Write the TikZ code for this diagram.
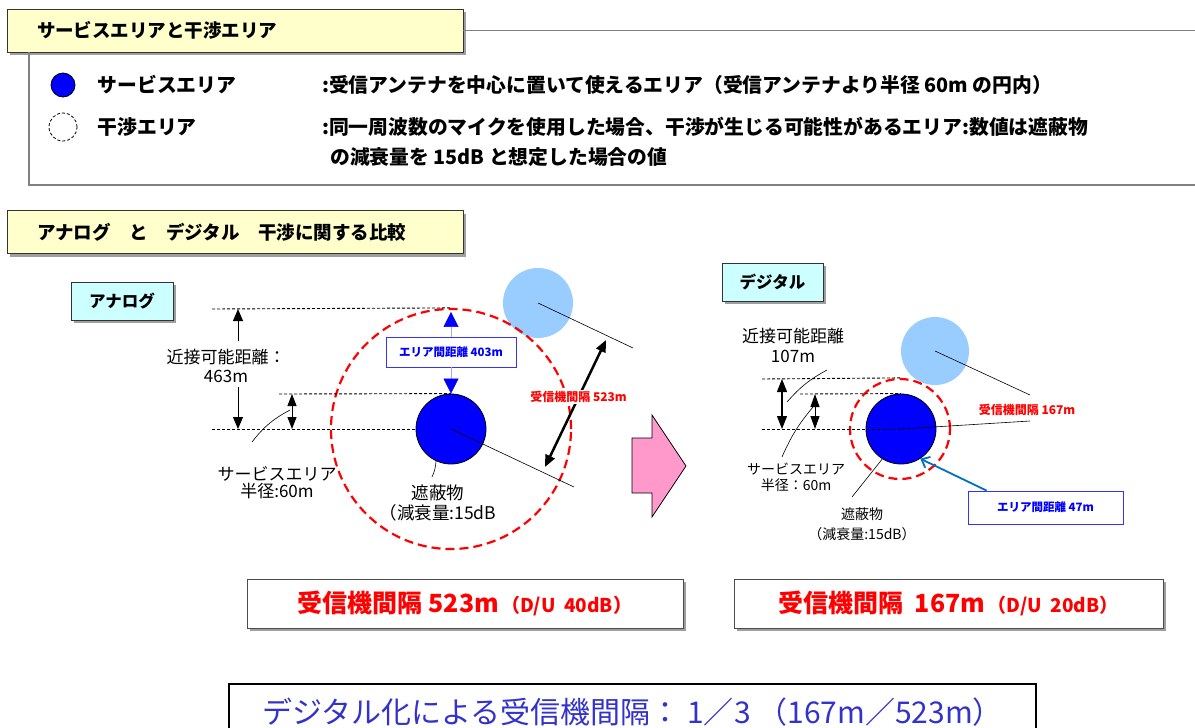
\documentclass[tikz,border=0pt]{standalone}
\usepackage{fontspec}
\setmainfont{Noto Sans CJK JP}
\usepackage{tikz}
\usetikzlibrary{positioning,shadows,arrows.meta}
\definecolor{titleyellow}{HTML}{FFFFCC}
\definecolor{tagcyan}{HTML}{CCFFFF}
\definecolor{antblue}{HTML}{0000FF}
\definecolor{farblue}{HTML}{99CCFF}
\definecolor{arrowpink}{HTML}{FF99CC}
\definecolor{gapblue}{HTML}{0070C0}
\definecolor{sumblue}{HTML}{3333CC}
\newcommand{\jfs}[1]{\fontsize{#1}{#1}\selectfont}
\tikzset{
	boxshadow/.style={drop shadow={shadow xshift=3pt,shadow yshift=-3pt,fill=gray!75,opacity=1}},
	titlebox/.style={draw=black!80, fill=titleyellow, line width=0.8pt, minimum height=43pt, inner xsep=30pt, text width=396pt, align=left, font=\jfs{18.5}\bfseries, boxshadow},
	tagbox/.style={draw=black!80, fill=tagcyan, line width=0.8pt, minimum width=102pt, minimum height=38pt, font=\jfs{16.5}\bfseries, boxshadow},
	framegray/.style={draw=gray, line width=1.2pt},
	legtext/.style={anchor=west, inner sep=0pt, font=\jfs{19.8}\bfseries},
	guide/.style={dash pattern=on 3pt off 2pt, line width=0.9pt},
	intcircle/.style={circle, draw=red, line width=2.2pt, dash pattern=on 9pt off 5pt, inner sep=0pt},
	antcircle/.style={circle, draw, fill=antblue, line width=0.8pt, inner sep=0pt},
	farcircle/.style={circle, fill=farblue, inner sep=0pt},
	dimarrow/.style={line width=1pt, -{Triangle[width=10pt,length=12pt]}},
	dimboth/.style={line width=1pt, {Triangle[width=9pt,length=12pt]}-{Triangle[width=9pt,length=12pt]}},
	leader/.style={line width=0.6pt},
	gapbox/.style={draw=blue!80, fill=white, line width=0.8pt, text=blue, font=\jfs{11.5}\bfseries, inner sep=0pt},
	gaparrow/.style={draw=blue!35, line width=0.6pt, -{Triangle[width=15pt,length=15pt,color=blue]}},
	redlabel/.style={text=red, font=\jfs{12}\bfseries, inner sep=1pt},
	resultbox/.style={draw=black!70, fill=white, line width=0.8pt, minimum height=49pt, text=red, boxshadow},
}
\begin{document}
\begin{tikzpicture}[x=1pt,y=-1pt]
	\useasboundingbox (0,0) rectangle (1195,728);
	\clip (0,0) rectangle (1195,728);
	
	\node[titlebox] (legtitle) at (235,30.5) {サービスエリアと干渉エリア};
	\coordinate (frtr) at (1195,30.5);
	\coordinate (frbl) at (29,185);
	\coordinate (frbr) at (1195,185);
	\draw[framegray] (legtitle.east) to (frtr);
	\draw[framegray] (legtitle.south -| frbl) to (frbl) to (frbr);
	
	\node[antcircle, minimum size=24pt] (legsrv) at (63,85) {};
	\node[circle, draw, line width=0.8pt, dash pattern=on 3pt off 2pt, minimum size=28pt, inner sep=0pt] (legint) at (63,127) {};
	\node[legtext, right=22pt of legsrv] (legsrvtxt) {サービスエリア};
	\node[legtext, right=20pt of legint] (leginttxt) {干渉エリア};
	\node[legtext] (legsrvdsc) at (322,85) {:受信アンテナを中心に置いて使えるエリア（受信アンテナより半径 60m の円内）};
	\node[legtext] (legintdsc) at (322,127) {:同一周波数のマイクを使用した場合、干渉が生じる可能性があるエリア:数値は遮蔽物};
	\node[legtext] (legintdsc2) at (330,157) {の減衰量を 15dB と想定した場合の値};
	
	\node[titlebox] (cmptitle) at (235,232) {アナログ　と　デジタル　干渉に関する比較};
	\node[tagbox] (anatag) at (122,301) {アナログ};
	\node[tagbox, minimum width=101pt] (digtag) at (772.5,282) {デジタル};
	
	\node[farcircle, minimum size=70pt] (afar) at (538,303) {};
	\node[antcircle, minimum size=70pt] (ablk) at (451,429) {};
	\node[intcircle, minimum size=240pt] (aint) at (451,429) {};
	\coordinate (atl) at (212,309);
	\coordinate (aml) at (279,394);
	\coordinate (abl) at (212,429);
	\draw[guide] (atl) to (aint.north);
	\draw[guide] (aml) to (ablk.north);
	\draw[guide] (abl) to (ablk.west);
	\node[align=center, font=\jfs{17}, inner sep=1pt] (adist) at (226,366) {近接可能距離：\\[2pt]463m};
	\coordinate (ad1) at (238,309);
	\coordinate (ad2) at (238,341);
	\coordinate (ad3) at (238,387);
	\coordinate (ad4) at (238,429);
	\draw[dimarrow] (ad2) to (ad1);
	\draw[dimarrow] (ad3) to (ad4);
	\coordinate (as1) at (292,394);
	\coordinate (as2) at (292,429);
	\draw[dimboth] (as1) to (as2);
	\coordinate (alead1) at (252,442);
	\coordinate (alead2) at (290,410);
	\draw[leader] (alead1) to[bend left=12] (alead2);
	\node[align=center, font=\jfs{17}, inner sep=1pt] (asrv) at (277,483) {サービスエリア\\半径:60m};
	\node[gapbox, minimum width=130pt, minimum height=30pt] (abox) at (451,352) {エリア間距離 403m};
	\draw[gaparrow] (abox.north) to ([yshift=-4pt]aint.north);
	\draw[gaparrow] (abox.south) to (ablk.north);
	\coordinate (afarend) at (633,348);
	\coordinate (ablkend) at (574,487);
	\draw[leader] (afar.center) to (afarend);
	\draw[leader] (ablk.center) to (ablkend);
	\coordinate (agap1) at (545,467);
	\coordinate (agap2) at (606,340);
	\draw[line width=2.5pt, {Triangle[width=10pt,length=12pt]}-{Triangle[width=10pt,length=12pt]}] (agap1) to node[pos=0.55, redlabel, fill=white] (agaptxt) {受信機間隔 523m} (agap2);
	\coordinate (alead3) at (432,477);
	\draw[leader] (alead3) to[bend right=10] (ablk.245);
	\node[align=center, font=\jfs{17.5}, inner sep=1pt] (ashield) at (438,503) {遮蔽物\\[3pt]（減衰量:15dB};
	
	\draw[fill=arrowpink, line width=0.8pt] (632,438) -- (652,438) -- (652,415) -- (686,466) -- (652,517) -- (652,493) -- (632,493) -- cycle;
	
	\node[farcircle, minimum size=68pt] (dfar) at (935,351) {};
	\node[intcircle, minimum size=100pt] (dint) at (900,429) {};
	\node[antcircle, minimum size=70pt] (dblk) at (901,429) {};
	\coordinate (dtl) at (762,379);
	\coordinate (dml) at (800,394);
	\coordinate (dbl) at (762,429);
	\draw[guide] (dtl) to (dint.north);
	\draw[guide] (dml) to (dblk.north);
	\draw[guide] (dbl) to (dblk.center);
	\coordinate (dd1) at (782,379);
	\coordinate (dd2) at (782,429);
	\draw[line width=1.2pt, {Triangle[width=10pt,length=13pt]}-{Triangle[width=10pt,length=13pt]}] (dd1) to (dd2);
	\coordinate (ds1) at (815,394);
	\coordinate (ds2) at (815,429);
	\draw[line width=1pt, {Triangle[width=9pt,length=13pt]}-{Triangle[width=9pt,length=13pt]}] (ds1) to (ds2);
	\node[align=center, font=\jfs{17}, inner sep=1pt] (ddist) at (793,345) {近接可能距離\\[3pt]107m};
	\coordinate (dlead1) at (787,402);
	\coordinate (dlead2) at (827,370);
	\draw[leader] (dlead1) to[bend left=10] (dlead2);
	\node[align=center, font=\jfs{14}, inner sep=1pt] (dsrv) at (796,477) {サービスエリア\\[2pt]半径：60m};
	\coordinate (dlead3) at (782,457);
	\coordinate (dlead4) at (813,407);
	\draw[leader] (dlead3) to[bend left=8] (dlead4);
	\node[align=center, font=\jfs{14}, inner sep=1pt] (dshield) at (862,524) {遮蔽物\\[6pt]（減衰量:15dB）};
	\coordinate (dlead5) at (852,497);
	\draw[leader] (dlead5) to (dblk.238);
	\coordinate (dfarend) at (1030,395);
	\coordinate (dblkend) at (1030,421);
	\draw[leader] (dfar.center) to (dfarend);
	\draw[leader] (dblk.center) to (dblkend);
	\node[redlabel] (dgaptxt) at (1027,410) {受信機間隔 167m};
	\node[gapbox, minimum width=155pt, minimum height=33pt] (dbox) at (1045.5,507.5) {エリア間距離 47m};
	\draw[draw=gapblue, line width=1.8pt, -{Straight Barb[length=7pt,width=12pt]}] ([xshift=19pt]dbox.north west) to (dblk.303);
	
	\node[resultbox, minimum width=436pt] (anares) at (465,603.5) {{\jfs{25}\bfseries 受信機間隔 523m} {\jfs{19}\bfseries （D/U~~40dB）}};
	\node[resultbox, minimum width=429pt] (digres) at (948.5,603.5) {{\jfs{25}\bfseries 受信機間隔~~167m} {\jfs{19}\bfseries （D/U~~20dB）}};
	\node[draw, line width=1.5pt, fill=white, minimum width=807pt, minimum height=56pt, text=sumblue, font=\jfs{30}] (ratio) at (632.5,712) {デジタル化による受信機間隔： 1／3 （167m／523m）};
\end{tikzpicture}
\end{document}
